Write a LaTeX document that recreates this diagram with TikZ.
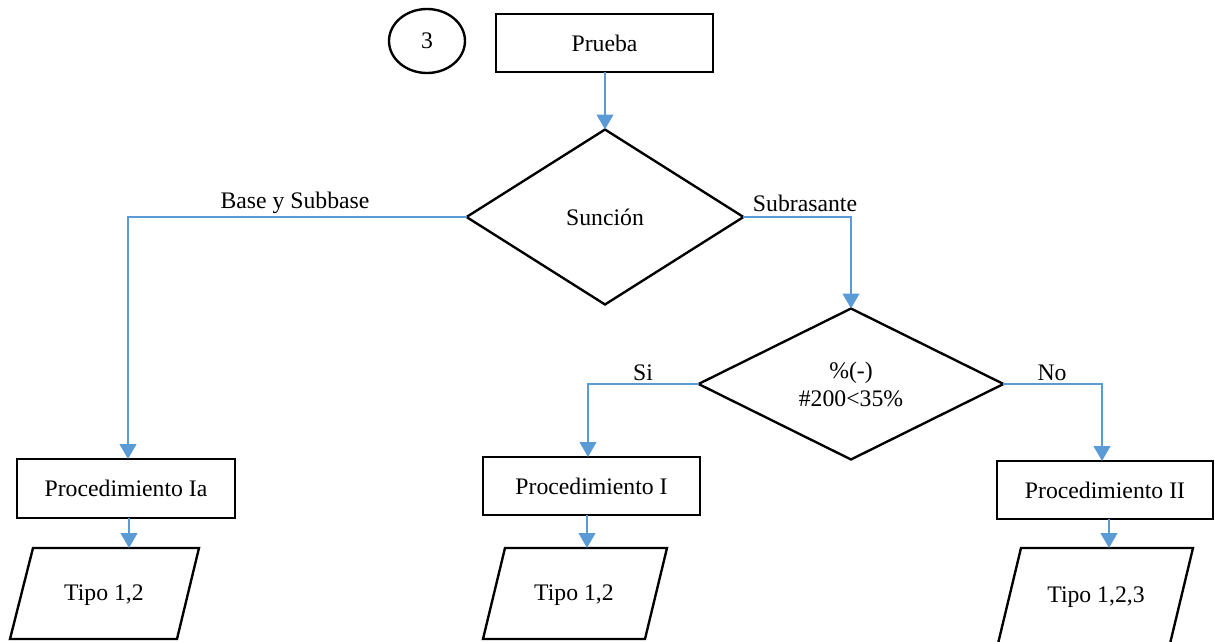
\documentclass[tikz,border=0pt]{standalone}
\usepackage{fontspec}
\setmainfont{Liberation Serif}
\usetikzlibrary{shapes.geometric,arrows.meta}
\definecolor{flow}{RGB}{91,155,213}
\begin{document}
\begin{tikzpicture}[x=0.02cm,y=-0.02cm,
  every node/.style={font=\fontsize{13.5}{16}\selectfont},
  box/.style={draw,line width=1.35pt,inner sep=0pt,outer sep=0pt},
  dec/.style={diamond,draw,line width=1.35pt,inner sep=0pt,outer sep=0pt,align=center},
  conn/.style={draw=flow,line width=1.1pt,-{Triangle[width=9.5pt,length=8.5pt,fill=flow]}},
  para/.style={draw,line width=1.35pt,line join=miter}]
\useasboundingbox (0,0) rectangle (1215,642);

% top
\node[ellipse,draw,line width=1.35pt,minimum width=1.52cm,minimum height=1.28cm,inner sep=0pt] (num) at (427,41) {3};
\node[box,minimum width=4.34cm,minimum height=1.16cm] (prueba) at (604.5,43) {Prueba};

% decisions
\node[dec,minimum width=5.54cm,minimum height=3.5cm] (s1) at (605,217) {Sunción};
\node[dec,minimum width=6.1cm,minimum height=3.02cm] (s2) at (851,384) {\%(-)\\\#200<35\%};

% procedures
\node[box,minimum width=4.36cm,minimum height=1.18cm] (pIa) at (126,488.5) {Procedimiento Ia};
\node[box,minimum width=4.34cm,minimum height=1.16cm] (pI) at (591.5,486) {Procedimiento I};
\node[box,minimum width=4.32cm,minimum height=1.16cm] (pII) at (1105,490) {Procedimiento II};

% parallelograms
\draw[para] (33,548) -- (199,548) -- (177,639) -- (10,639) -- cycle;
\node (t1) at (104,595) {Tipo 1,2};
\draw[para] (505,548) -- (667,548) -- (645,639) -- (483,639) -- cycle;
\node (t2) at (574,595) {Tipo 1,2};
\draw[para] (1021,548) -- (1193,548) -- (1168,652) -- (996,652) -- cycle;
\node (t3) at (1096,597) {Tipo 1,2,3};
\coordinate (p1top) at (129,548);
\coordinate (p2top) at (587,548);
\coordinate (p3top) at (1109,548);
\coordinate (aIa) at (128,459);
\coordinate (aI) at (588,457);
\coordinate (aII) at (1102,461);

% connectors
\draw[conn] (s1.north |- prueba.south) -- (s1.north);
\draw[conn] (s1.west) -| (aIa);
\draw[conn] (s1.east) -| (s2.north);
\draw[conn] (s2.west) -| (aI);
\draw[conn] (s2.east) -| (aII);
\draw[conn] (pIa.south -| p1top) -- (p1top);
\draw[conn] (pI.south -| p2top) -- (p2top);
\draw[conn] (pII.south -| p3top) -- (p3top);

% labels
\node (lb1) at (295,203) {Base y Subbase};
\node (lb2) at (805,203) {Subrasante};
\node (lb3) at (643,373) {Si};
\node (lb4) at (1052,373) {No};
\end{tikzpicture}
\end{document}
